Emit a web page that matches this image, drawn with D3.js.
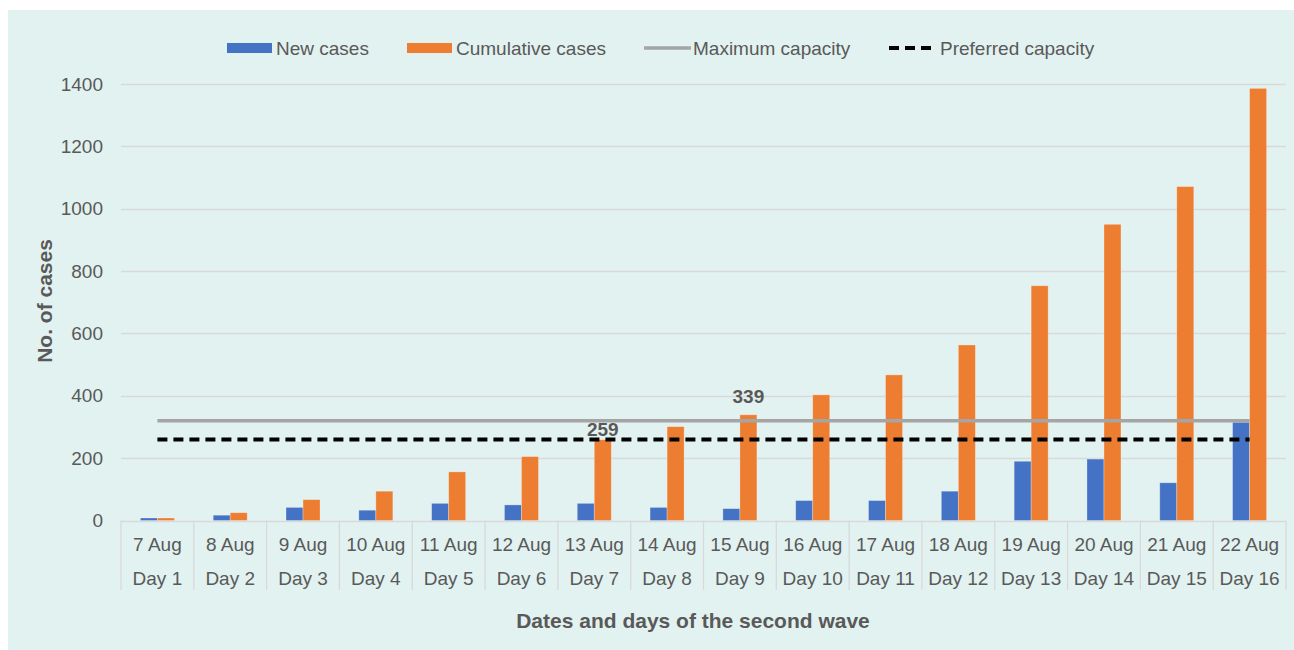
<!DOCTYPE html>
<html>
<head>
<meta charset="utf-8">
<script src="https://cdn.jsdelivr.net/npm/d3@7"></script>
<style>
  html, body { margin: 0; padding: 0; background: #ffffff; }
  svg { display: block; font-family: "Liberation Sans", Arial, sans-serif; }
</style>
</head>
<body>
<svg id="chart" width="1294" height="650"></svg>
<script>
// Second-wave case counts
const dates = ["7 Aug","8 Aug","9 Aug","10 Aug","11 Aug","12 Aug","13 Aug","14 Aug",
               "15 Aug","16 Aug","17 Aug","18 Aug","19 Aug","20 Aug","21 Aug","22 Aug"];
const days = ["Day 1","Day 2","Day 3","Day 4","Day 5","Day 6","Day 7","Day 8",
              "Day 9","Day 10","Day 11","Day 12","Day 13","Day 14","Day 15","Day 16"];
const newCases = [8, 17, 42, 33, 55, 50, 55, 42, 38, 64, 64, 94, 190, 197, 121, 315];
const cumulativeCases = [8, 25, 67, 94, 156, 205, 259, 301, 339, 403, 467, 563, 753, 950, 1071, 1386];
const maximumCapacity = 320;
const preferredCapacity = 260;
const labelledDays = ["Day 7", "Day 9"];   // cumulative bars that carry a value label
const yTicks = [0, 200, 400, 600, 800, 1000, 1200, 1400];
const seriesNames = ["New cases", "Cumulative cases"];

const textColor = "#595959";
const gridColor = "#d9d9d9";
const colors = { "New cases": "#4472c4", "Cumulative cases": "#ed7d31" };
// gap between each value label and the top of its bar
const labelGap = { "Day 7": 4, "Day 9": 12 };

const svg = d3.select("#chart");

// panel background
svg.append("rect").attr("x", 8).attr("y", 10).attr("width", 1286).attr("height", 640)
  .attr("fill", "#e2f2f0");

const plot = { left: 121, right: 1286, top: 84, bottom: 520.5 };

const x0 = d3.scaleBand().domain(days).range([plot.left, plot.right]).paddingInner(0).paddingOuter(0);
const x1 = d3.scaleBand().domain(seriesNames).range([0, x0.bandwidth()]).paddingInner(0).paddingOuter(1.14);
const y = d3.scaleLinear().domain([0, 1400]).range([plot.bottom, plot.top]);

// horizontal gridlines
svg.append("g").selectAll("line").data(yTicks).join("line")
  .attr("x1", plot.left).attr("x2", plot.right)
  .attr("y1", d => Math.round(y(d)) + 0.5).attr("y2", d => Math.round(y(d)) + 0.5)
  .attr("stroke", gridColor).attr("stroke-width", 1.3);

// y axis labels
const yAxis = d3.axisLeft(y).tickValues(yTicks).tickSize(0).tickPadding(18).tickFormat(d3.format("d"));
const yg = svg.append("g").attr("transform", `translate(${plot.left},0)`).call(yAxis);
yg.select(".domain").remove();
yg.selectAll("text").attr("fill", textColor).style("font-size", "19px")
  .style("font-family", '"Liberation Sans", Arial, sans-serif');

// category separators under the axis
const bounds = days.map(d => x0(d)).concat([plot.right]);
svg.append("g").selectAll("line").data(bounds).join("line")
  .attr("x1", d => d).attr("x2", d => d)
  .attr("y1", plot.bottom).attr("y2", 590)
  .attr("stroke", gridColor).attr("stroke-width", 1.3);

// two-row category labels
const xg = svg.append("g");
xg.selectAll("text.date").data(dates).join("text").attr("class", "date")
  .attr("x", (d, i) => x0(days[i]) + x0.bandwidth() / 2).attr("y", 551)
  .attr("text-anchor", "middle").attr("fill", textColor).style("font-size", "19px").text(d => d);
xg.selectAll("text.day").data(days).join("text").attr("class", "day")
  .attr("x", d => x0(d) + x0.bandwidth() / 2).attr("y", 585)
  .attr("text-anchor", "middle").attr("fill", textColor).style("font-size", "19px").text(d => d);

// bars
const rows = days.map((d, i) => ({ day: d, values: [
  { key: "New cases", value: newCases[i] },
  { key: "Cumulative cases", value: cumulativeCases[i] } ] }));

svg.append("g").selectAll("g").data(rows).join("g")
  .attr("transform", d => `translate(${x0(d.day)},0)`)
  .selectAll("rect").data(d => d.values).join("rect")
  .attr("x", d => x1(d.key)).attr("width", x1.bandwidth())
  .attr("y", d => y(d.value)).attr("height", d => y(0) - y(d.value))
  .attr("fill", d => colors[d.key])
  .attr("stroke", "rgba(255,255,255,0.35)").attr("stroke-width", 0.8);

// capacity lines through category centres
const capLine = v => d3.line()
  .x(d => x0(d) + x0.bandwidth() / 2)
  .y(() => y(v))(days);

svg.append("path").attr("d", capLine(maximumCapacity))
  .attr("fill", "none").attr("stroke", "#a5a5a5").attr("stroke-width", 3.3);
svg.append("path").attr("d", capLine(preferredCapacity))
  .attr("fill", "none").attr("stroke", "#000000").attr("stroke-width", 4)
  .attr("stroke-dasharray", "10,6");

// value labels
svg.append("g").selectAll("text").data(labelledDays).join("text")
  .attr("x", d => x0(d) + x1("Cumulative cases") + x1.bandwidth() / 2)
  .attr("y", d => y(cumulativeCases[days.indexOf(d)]) - labelGap[d])
  .attr("text-anchor", "middle").attr("fill", textColor)
  .style("font-size", "19px").style("font-weight", "bold")
  .text(d => cumulativeCases[days.indexOf(d)]);

// axis titles
svg.append("text").attr("x", 693).attr("y", 628).attr("text-anchor", "middle")
  .attr("fill", textColor).style("font-size", "21px").style("font-weight", "bold")
  .text("Dates and days of the second wave");
svg.append("text").attr("transform", "translate(52,301) rotate(-90)").attr("text-anchor", "middle")
  .attr("fill", textColor).style("font-size", "21px").style("font-weight", "bold")
  .text("No. of cases");

// legend
const legend = svg.append("g");
const legendItems = [
  { name: "New cases", x: 227, type: "rect", color: colors["New cases"] },
  { name: "Cumulative cases", x: 407, type: "rect", color: colors["Cumulative cases"] },
  { name: "Maximum capacity", x: 644, type: "line", color: "#a5a5a5" },
  { name: "Preferred capacity", x: 889, type: "dash", color: "#000000" }
];
legendItems.forEach(it => {
  if (it.type === "rect") {
    legend.append("rect").attr("x", it.x).attr("y", 43).attr("width", 45).attr("height", 10).attr("fill", it.color);
  } else if (it.type === "line") {
    legend.append("line").attr("x1", it.x).attr("x2", it.x + 47).attr("y1", 48).attr("y2", 48)
      .attr("stroke", it.color).attr("stroke-width", 3.3);
  } else {
    legend.append("line").attr("x1", it.x).attr("x2", it.x + 44).attr("y1", 48).attr("y2", 48)
      .attr("stroke", it.color).attr("stroke-width", 4).attr("stroke-dasharray", "10,6");
  }
  legend.append("text").attr("x", it.x + (it.type === "dash" ? 51 : 49)).attr("y", 54.5)
    .attr("fill", textColor).style("font-size", "19px").text(it.name);
});
</script>
</body>
</html>
